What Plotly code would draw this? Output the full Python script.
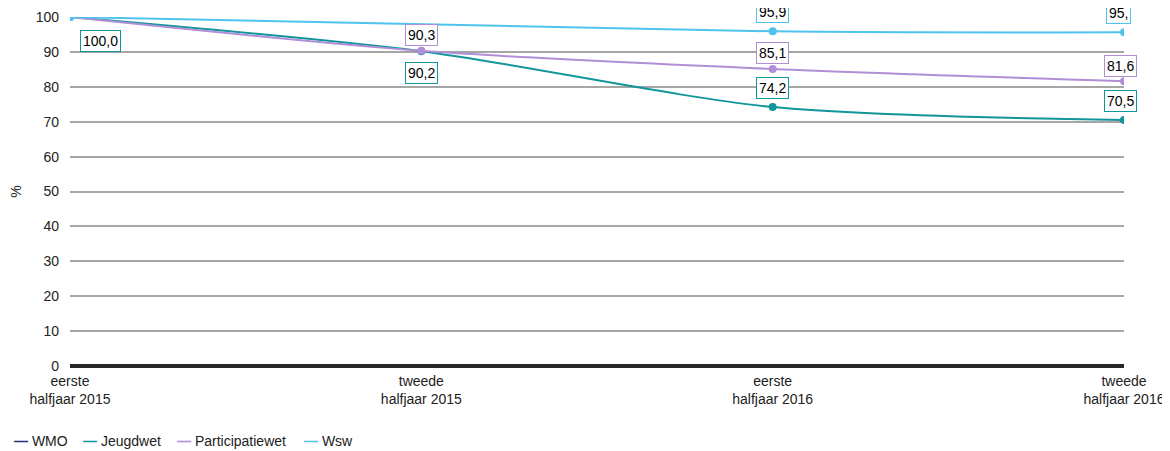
import plotly.graph_objects as go

periods = ["eerste<br>halfjaar 2015", "tweede<br>halfjaar 2015", "eerste<br>halfjaar 2016", "tweede<br>halfjaar 2016"]
wmo = [None, None, None, None]
jeugdwet = [100.0, 90.2, 74.2, 70.5]
participatiewet = [100.0, 90.3, 85.1, 81.6]
wsw = [100.0, None, 95.9, 95.6]

colors = {"WMO": "#2a2d7c", "Jeugdwet": "#10969b", "Participatiewet": "#b08fd6", "Wsw": "#4ec3ee"}

# (series values, index, label text, series, xshift, yshift)
labels = [
    (jeugdwet, 0, "100,0", "Jeugdwet", 30, -24),
    (participatiewet, 1, "90,3", "Participatiewet", 0, 16),
    (jeugdwet, 1, "90,2", "Jeugdwet", 0, -22),
    (wsw, 2, "95,9", "Wsw", 0, 19),
    (participatiewet, 2, "85,1", "Participatiewet", 0, 16),
    (jeugdwet, 2, "74,2", "Jeugdwet", 0, 19),
    (wsw, 3, "95,", "Wsw", -6, 19),
    (participatiewet, 3, "81,6", "Participatiewet", -4, 15),
    (jeugdwet, 3, "70,5", "Jeugdwet", -4, 19),
]

x = list(range(len(periods)))
fig = go.Figure()

series = [("WMO", wmo), ("Jeugdwet", jeugdwet), ("Participatiewet", participatiewet), ("Wsw", wsw)]
for name, vals in series:
    fig.add_trace(go.Scatter(x=x, y=vals, name=name, mode="lines+markers", showlegend=False,
                             connectgaps=True,
                             line=dict(color=colors[name], width=2, shape="spline", smoothing=0.8),
                             marker=dict(size=8, color=colors[name])))

for vals, i, txt, name, xs, ys in labels:
    fig.add_annotation(x=x[i], y=vals[i], text=txt, showarrow=False,
                       xshift=xs, yshift=ys, bgcolor="white", bordercolor=colors[name],
                       borderwidth=1, borderpad=2,
                       font=dict(size=14, color="#000000"))

# compact legend with short line symbols, like the original
legend_x = [-0.055, 0.0104, 0.0996, 0.220]
for (name, _), lx in zip(series, legend_x):
    fig.add_annotation(xref="paper", yref="paper", x=lx, y=-0.215,
                       xanchor="left", yanchor="middle", showarrow=False,
                       text=f"<span style='color:{colors[name]}'><b>—</b></span> {name}",
                       font=dict(size=14, color="#222222"))

fig.update_layout(
    width=1162, height=443,
    margin=dict(l=62, r=46, t=9, b=85, autoexpand=False),
    plot_bgcolor="white", paper_bgcolor="white",
    font=dict(family="Liberation Sans, Arial, sans-serif", size=14, color="#222222"),
    showlegend=False,
)
fig.update_xaxes(
    tickmode="array", tickvals=x, ticktext=periods, automargin=False,
    range=[0, 3], showgrid=False, zeroline=False, showline=False,
    ticks="", tickfont=dict(size=14), ticklabelstandoff=5,
)
fig.update_yaxes(
    range=[0, 100], dtick=10, showgrid=True, gridcolor="#a6a6a6", gridwidth=1.5,
    zeroline=True, zerolinecolor="#262626", zerolinewidth=4, automargin=False,
    showline=False, ticks="", tickfont=dict(size=14), ticklabelstandoff=10,
    title=dict(text="%", font=dict(size=14), standoff=14),
)

fig.write_html("out.html")
